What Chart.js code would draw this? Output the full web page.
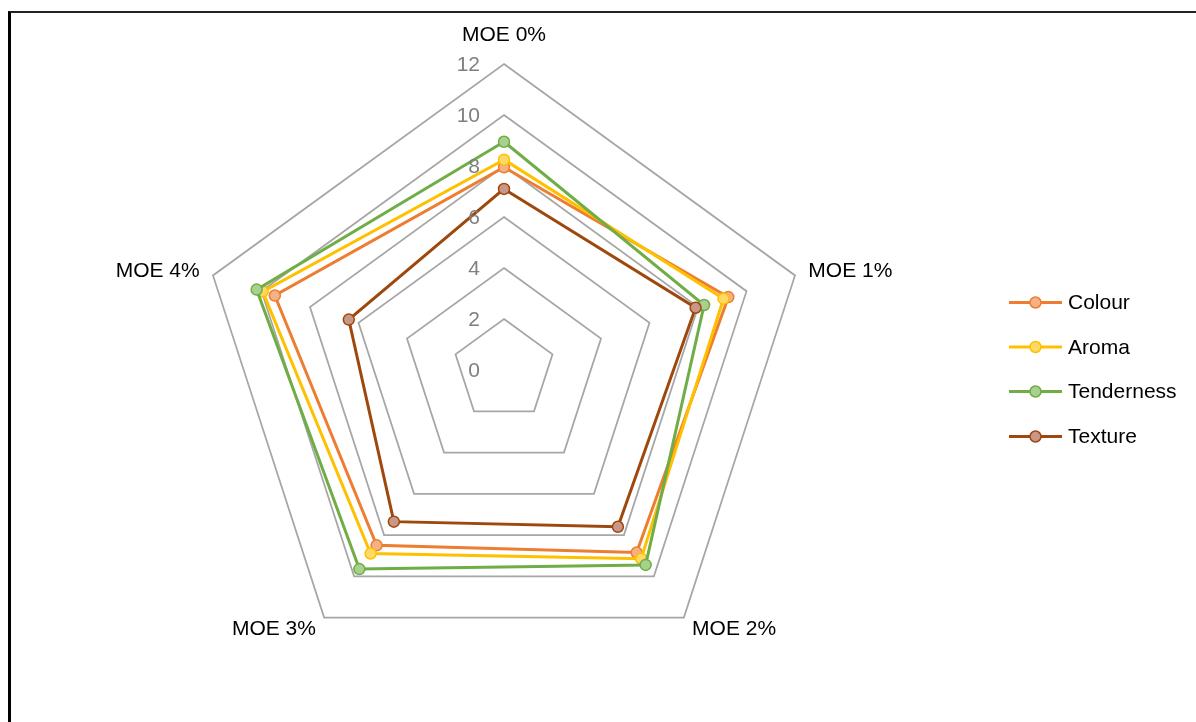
<!DOCTYPE html>
<html>
<head>
<meta charset="utf-8">
<title>MOE sensory radar</title>
<script src="https://cdn.jsdelivr.net/npm/chart.js@4/dist/chart.umd.min.js"></script>
<style>
  html, body { margin: 0; padding: 0; background: #fff; overflow: hidden; }
  #wrap { position: relative; width: 1196px; height: 722px; }
  #frame {
    position: absolute; left: 8px; top: 11px; width: 1300px; height: 800px;
    border-left: 3px solid #000; border-top: 2px solid #222; box-sizing: border-box;
    pointer-events: none;
  }
  canvas { position: absolute; left: 0; top: 0; }
</style>
</head>
<body>
<div id="wrap">
  <canvas id="chart" width="1196" height="722"></canvas>
  <div id="frame"></div>
</div>
<script>
// Axis categories and tick values
const categories = ['MOE 0%', 'MOE 1%', 'MOE 2%', 'MOE 3%', 'MOE 4%'];
const tickValues = [0, 2, 4, 6, 8, 10, 12];

// Sensory scores per formulation
const colour     = [7.95, 9.25, 8.85, 8.5, 9.45];
const aroma      = [8.25, 9.05, 9.15, 8.9, 9.95];
const tenderness = [8.95, 8.25, 9.45, 9.65, 10.2];
const texture    = [7.1, 7.9, 7.6, 7.35, 6.4];

const seriesNames = ['Colour', 'Aroma', 'Tenderness', 'Texture'];
const seriesData = [colour, aroma, tenderness, texture];
const lineColors = ['#ED7D31', '#FFC000', '#70AD47', '#9E480E'];
const fillColors = ['#F4B183', '#FFD966', '#A9D18E', '#C9968A'];

const FONT = '"Liberation Sans", Arial, sans-serif';

const datasets = seriesNames.map((name, i) => ({
  label: name,
  data: seriesData[i],
  borderColor: lineColors[i],
  backgroundColor: 'transparent',
  fill: false,
  borderWidth: 3,
  pointRadius: 5.5,
  pointHoverRadius: 5.5,
  pointBorderWidth: 1.5,
  pointBorderColor: lineColors[i],
  pointBackgroundColor: fillColors[i],
  order: seriesNames.length - i
}));

// Tick labels, category labels and the line+marker legend
const overlay = {
  id: 'overlay',
  afterDraw(chart) {
    const ctx = chart.ctx;
    const r = chart.scales.r;
    ctx.save();

    // tick labels, right-aligned just left of the vertical axis
    ctx.font = '21px ' + FONT;
    ctx.fillStyle = '#7F7F7F';
    ctx.textAlign = 'right';
    ctx.textBaseline = 'middle';
    tickValues.forEach(v => {
      const d = r.getDistanceFromCenterForValue(v);
      ctx.fillText(String(v), r.xCenter - 24, r.yCenter - d + 1);
    });

    // category labels around the outer ring
    ctx.fillStyle = '#000';
    const aligns = ['center', 'left', 'left', 'right', 'right'];
    categories.forEach((c, i) => {
      const extra = i === 0 ? 29 : 14;
      const p = r.getPointPosition(i, r.drawingArea + extra);
      ctx.textAlign = aligns[i];
      ctx.textBaseline = 'middle';
      ctx.fillText(c, p.x, p.y);
    });

    // legend
    const lx0 = 1009, lx1 = 1062, tx = 1068;
    const ys = [302.5, 347, 391.5, 436.5];
    seriesNames.forEach((name, i) => {
      const y = ys[i];
      ctx.strokeStyle = lineColors[i];
      ctx.lineWidth = 3;
      ctx.beginPath();
      ctx.moveTo(lx0, y);
      ctx.lineTo(lx1, y);
      ctx.stroke();
      ctx.beginPath();
      ctx.arc((lx0 + lx1) / 2, y, 5.5, 0, Math.PI * 2);
      ctx.fillStyle = fillColors[i];
      ctx.fill();
      ctx.lineWidth = 1.5;
      ctx.stroke();
      ctx.fillStyle = '#000';
      ctx.textAlign = 'left';
      ctx.textBaseline = 'middle';
      ctx.fillText(name, tx, y + 1);
    });
    ctx.restore();
  }
};

new Chart(document.getElementById('chart'), {
  type: 'radar',
  data: { labels: categories, datasets },
  options: {
    responsive: false,
    animation: false,
    layout: { padding: { left: 198, top: 64, right: 386, bottom: 46 } },
    elements: { line: { tension: 0 } },
    plugins: { legend: { display: false }, tooltip: { enabled: false } },
    scales: {
      r: {
        min: 0,
        max: 12,
        beginAtZero: true,
        ticks: { stepSize: 2, display: false },
        grid: { color: '#A6A6A6', lineWidth: 1.75 },
        angleLines: { display: false },
        pointLabels: { display: false }
      }
    }
  },
  plugins: [overlay]
});
</script>
</body>
</html>
